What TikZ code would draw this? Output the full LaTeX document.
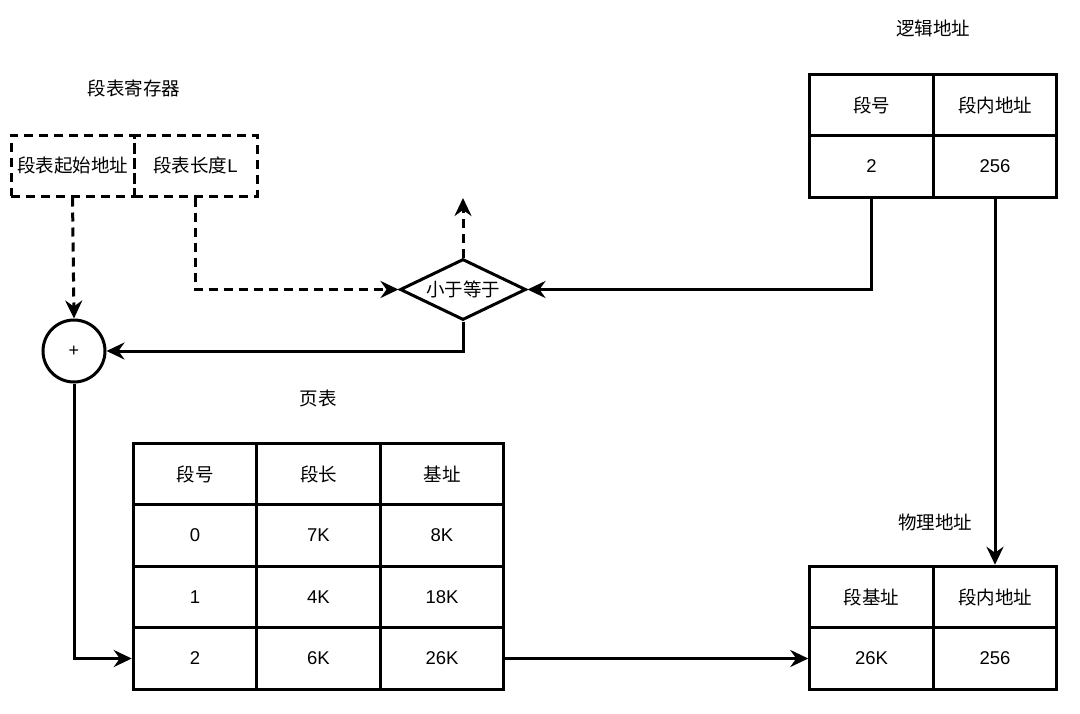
\documentclass[tikz,border=0pt]{standalone}
\usepackage{fontspec}
\setmainfont{Liberation Sans}
\newfontfamily\cjk{Noto Sans CJK SC}
\usetikzlibrary{shapes.geometric,arrows.meta}
\begin{document}
\begin{tikzpicture}[x=1pt,y=-1pt,
  cell/.style={draw, line width=3pt, minimum width=123.5pt, minimum height=61.5pt, inner sep=0pt, font=\fontsize{18.5}{21}\selectfont},
  regbox/.style={draw, line width=3pt, dash pattern=on 9pt off 6pt, minimum width=123pt, minimum height=61pt, inner sep=0pt, font=\fontsize{18.5}{21}\selectfont},
  title/.style={inner sep=0pt, font=\fontsize{18.5}{21}\selectfont},
  conn/.style={line width=3pt, -{Stealth[length=18pt,width=17pt,inset=6pt]}},
  dconn/.style={conn, dash pattern=on 9pt off 6pt}
]
\path[use as bounding box, fill=white] (0,0) rectangle (1080,713);

% titles
\node[title] (tla) at (933,28) {\cjk 逻辑地址};
\node[title] (treg) at (134,88) {\cjk 段表寄存器};
\node[title] (tpt) at (318,398) {\cjk 页表};
\node[title] (tpa) at (935,522) {\cjk 物理地址};

% segment table register
\node[regbox] (sr1) at (72.5,165.5) {\cjk 段表起始地址};
\node[regbox] (sr2) at (195.5,165.5) {{\cjk 段表长度}L};

% comparator and adder
\node[draw, line width=3pt, diamond, minimum width=126pt, minimum height=61pt, inner sep=0pt, aspect=2.07, font=\fontsize{18.5}{21}\selectfont] (cmp) at (463,289.5) {\cjk 小于等于};
\node[draw, line width=3pt, circle, minimum size=62pt, inner sep=0pt, font=\fontsize{18}{20}\selectfont] (add) at (74,351) {+};
\coordinate (up) at (463,198);

% logical address
\node[cell] (la11) at (871.5,105) {\cjk 段号};
\node[cell] (la12) at (995,105) {\cjk 段内地址};
\node[cell] (la21) at (871.5,166.5) {2};
\node[cell] (la22) at (995,166.5) {256};

% physical address
\node[cell] (pa11) at (871.5,597) {\cjk 段基址};
\node[cell] (pa12) at (995,597) {\cjk 段内地址};
\node[cell] (pa21) at (871.5,658.5) {26K};
\node[cell] (pa22) at (995,658.5) {256};

% segment table
\node[cell] (pt01) at (195,474) {\cjk 段号};
\node[cell] (pt02) at (318.5,474) {\cjk 段长};
\node[cell] (pt03) at (442,474) {\cjk 基址};
\node[cell] (pt11) at (195,535.5) {0};
\node[cell] (pt12) at (318.5,535.5) {7K};
\node[cell] (pt13) at (442,535.5) {8K};
\node[cell] (pt21) at (195,597) {1};
\node[cell] (pt22) at (318.5,597) {4K};
\node[cell] (pt23) at (442,597) {18K};
\node[cell] (pt31) at (195,658.5) {2};
\node[cell] (pt32) at (318.5,658.5) {6K};
\node[cell] (pt33) at (442,658.5) {26K};

% connectors
\draw[dconn] (sr1.south) -- (add.north);
\draw[dconn] (sr2.south) |- (cmp.west);
\draw[dconn] (cmp.north) -- (up);
\draw[conn] (cmp.south) |- (add.east);
\draw[conn] (la21.south) |- (cmp.east);
\draw[conn] (la22.south) -- (pa12.north);
\draw[conn] (add.south) |- (pt31.west);
\draw[conn] (pt33.east) -- (pa21.west);
\end{tikzpicture}
\end{document}
